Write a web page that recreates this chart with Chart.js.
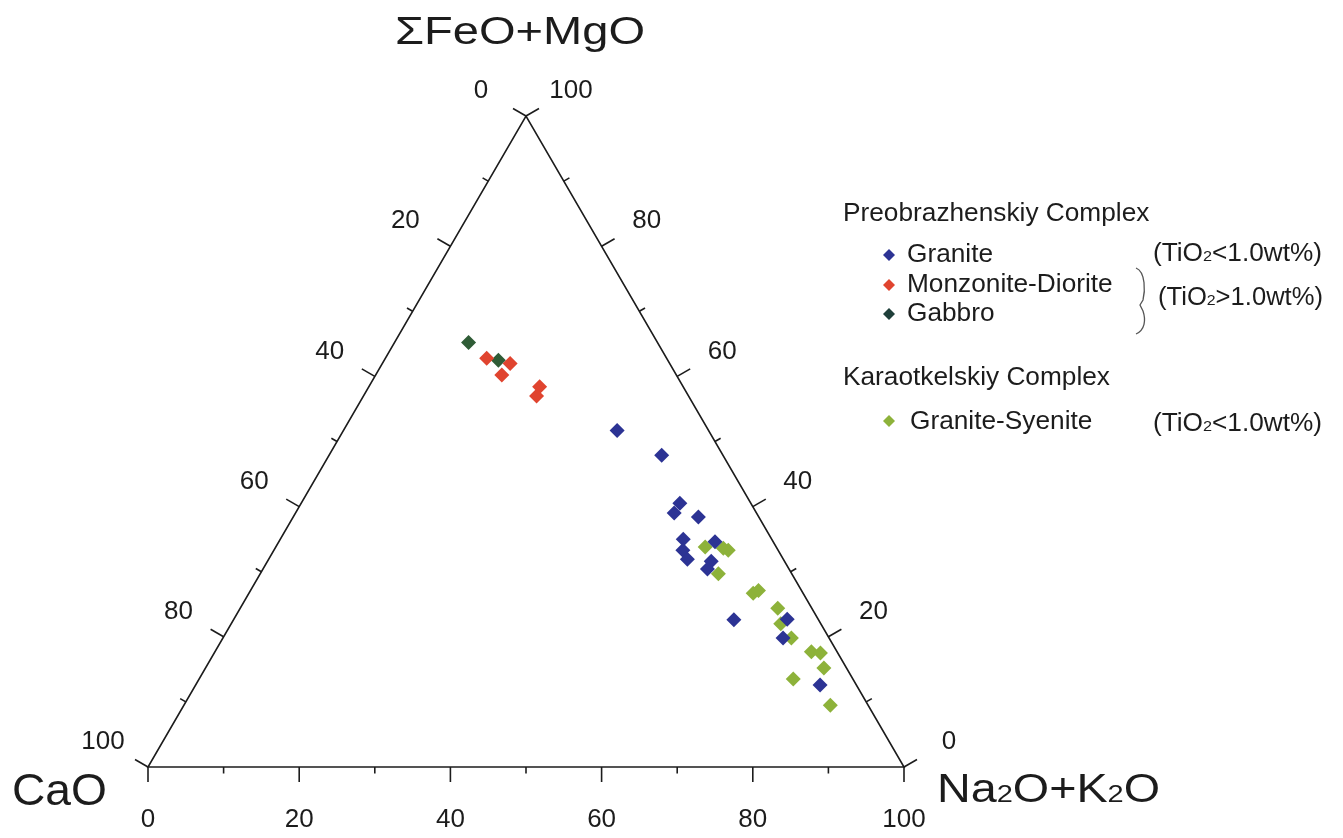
<!DOCTYPE html>
<html>
<head>
<meta charset="utf-8">
<script src="https://cdn.jsdelivr.net/npm/chart.js@4.4.0/dist/chart.umd.min.js"></script>
<style>
  html, body { margin: 0; padding: 0; background: #ffffff; }
  #container { display: block; }
</style>
</head>
<body>
<canvas id="container" width="1343" height="838"></canvas>
<script>
// ternary compositions, wt% : CaO / ΣFeO+MgO / Na2O+K2O
const graniteCaO = [12.1, 8.1, 9.4, 10.9, 8.0, 11.7, 12.6, 12.7, 7.7, 9.7, 10.8, 11.2, 4.1, 6.1, 4.8];
const graniteFeMg = [51.7, 47.9, 40.5, 39.0, 38.4, 35.0, 33.3, 31.9, 34.6, 31.6, 30.4, 22.6, 22.7, 19.8, 12.6];
const graniteAlk = [36.2, 44.0, 50.1, 50.1, 53.6, 53.3, 54.1, 55.4, 57.7, 58.7, 58.8, 66.2, 73.2, 74.1, 82.6];

const monzoCaO = [23.8, 21.1, 23.1, 19.0, 20.1];
const monzoFeMg = [62.8, 62.0, 60.2, 58.4, 57.0];
const monzoAlk = [13.4, 16.9, 16.7, 22.6, 22.9];

const gabbroCaO = [25.0, 22.4];
const gabbroFeMg = [65.2, 62.5];
const gabbroAlk = [9.8, 15.1];

const syeniteCaO = [9.4, 7.1, 6.6, 9.7, 6.6, 5.7, 4.5, 5.3, 5.0, 3.4, 2.3, 3.0, 7.9, 5.0];
const syeniteFeMg = [33.8, 33.6, 33.3, 29.7, 26.7, 27.1, 24.4, 22.0, 19.8, 17.7, 17.5, 15.2, 13.5, 9.5];
const syeniteAlk = [56.8, 59.3, 60.1, 60.6, 66.7, 67.2, 71.1, 72.7, 75.2, 78.9, 80.2, 81.8, 78.6, 85.5];

const axisTicks = [0, 10, 20, 30, 40, 50, 60, 70, 80, 90, 100];
const labelTicks = [0, 20, 40, 60, 80, 100];
const apexTitles = ['CaO', 'ΣFeO+MgO', 'Na_2O+K_2O'];
const seriesNames = ['Granite', 'Monzonite-Diorite', 'Gabbro', 'Granite-Syenite'];
const complexNames = ['Preobrazhenskiy Complex', 'Karaotkelskiy Complex'];
const tioNotes = ['(TiO_2<1.0wt%)', '(TiO_2>1.0wt%)', '(TiO_2<1.0wt%)'];

const FONT = '"Liberation Sans", Arial, Helvetica, sans-serif';
const INK = '#1c1c1c';
const seriesColors = ['#2c3394', '#e0442f', '#2f5c36', '#8db23a'];

// ternary -> plot coordinates (x across the base, y = height fraction)
function toXY(ca, fe, alk) {
    return ca.map((c, i) => {
        const s = c + fe[i] + alk[i];
        return { x: (alk[i] + fe[i] / 2) / s * 100, y: fe[i] / s * 100 };
    });
}

// text with "_2" style subscripts, optionally stretched to a width
function drawRich(ctx, text, x, y, size, opts = {}) {
    const segs = text.split(/(_\d)/).filter(Boolean).map(s =>
        s[0] === '_' ? { t: s.slice(1), sub: true } : { t: s, sub: false });
    let w = 0;
    segs.forEach(s => {
        ctx.font = `${s.sub ? size * 0.62 : size}px ${FONT}`;
        s.w = ctx.measureText(s.t).width;
        w += s.w;
    });
    const k = opts.width ? opts.width / w : (opts.scale || 1);
    let sx = x;
    if (opts.align === 'center') sx = x - w * k / 2;
    ctx.save();
    ctx.translate(sx, y);
    ctx.scale(k, 1);
    ctx.fillStyle = opts.color || INK;
    ctx.textAlign = 'left';
    ctx.textBaseline = opts.baseline || 'alphabetic';
    let cx = 0;
    segs.forEach(s => {
        ctx.font = `${s.sub ? size * 0.62 : size}px ${FONT}`;
        ctx.fillText(s.t, cx, 0);
        cx += s.w;
    });
    ctx.restore();
}

function diamond(ctx, x, y, r, color) {
    ctx.beginPath();
    ctx.moveTo(x, y - r);
    ctx.lineTo(x + r, y);
    ctx.lineTo(x, y + r);
    ctx.lineTo(x - r, y);
    ctx.closePath();
    ctx.fillStyle = color;
    ctx.fill();
}

const ternaryFrame = {
    id: 'ternaryFrame',
    beforeDatasetsDraw(chart) {
        const ctx = chart.ctx;
        const xs = chart.scales.x, ys = chart.scales.y;
        const P = (fe, alk) => ({ x: xs.getPixelForValue(alk + fe / 2), y: ys.getPixelForValue(fe) });
        const c30 = Math.cos(Math.PI / 6), s30 = 0.5;

        ctx.save();
        ctx.strokeStyle = INK;
        ctx.lineWidth = 1.6;
        const bl = P(0, 0), br = P(0, 100), top = P(100, 0);
        ctx.beginPath();
        ctx.moveTo(bl.x, bl.y);
        ctx.lineTo(br.x, br.y);
        ctx.lineTo(top.x, top.y);
        ctx.closePath();
        ctx.stroke();

        const axes = [
            // bottom: Na2O+K2O, left -> right
            { at: v => P(0, v), dir: [0, 1] },
            // left: CaO, top -> bottom-left
            { at: v => P(100 - v, 0), dir: [-c30, -s30] },
            // right: FeO+MgO, bottom-right -> top
            { at: v => P(v, 100 - v), dir: [c30, -s30] }
        ];
        axes.forEach(ax => {
            axisTicks.forEach(v => {
                const p = ax.at(v);
                const major = labelTicks.includes(v);
                const len = major ? 15 : 6.5;
                ctx.beginPath();
                ctx.moveTo(p.x, p.y);
                ctx.lineTo(p.x + ax.dir[0] * len, p.y + ax.dir[1] * len);
                ctx.stroke();
                if (major) {
                    drawRich(ctx, String(v), p.x + ax.dir[0] * 52, p.y + ax.dir[1] * 52 + 1, 26,
                        { align: 'center', baseline: 'middle' });
                }
            });
        });
        ctx.restore();
    },
    afterDatasetsDraw(chart) {
        const ctx = chart.ctx;
        const xs = chart.scales.x, ys = chart.scales.y;
        const bl = { x: xs.getPixelForValue(0), y: ys.getPixelForValue(0) };
        const br = { x: xs.getPixelForValue(100), y: ys.getPixelForValue(0) };
        const top = { x: xs.getPixelForValue(50), y: ys.getPixelForValue(100) };

        // apex titles
        drawRich(ctx, apexTitles[0], bl.x - 136, bl.y + 38, 44, { width: 95 });
        drawRich(ctx, apexTitles[1], top.x - 131, top.y - 72, 38, { width: 250 });
        drawRich(ctx, apexTitles[2], br.x + 33, br.y + 35, 40, { width: 223 });

        // legend
        const lx = 843, st = 1.05;
        drawRich(ctx, complexNames[0], lx, 221, 25, { scale: st });
        const rows = [262, 292, 321];
        [0, 1, 2].forEach((d, i) => {
            diamond(ctx, lx + 46, rows[i] - 7, 6, d === 2 ? '#1f3f3a' : seriesColors[d]);
            drawRich(ctx, seriesNames[d], lx + 64, rows[i], 25, { scale: st });
        });
        drawRich(ctx, tioNotes[0], 1153, 261, 25, { width: 169 });
        drawRich(ctx, tioNotes[1], 1158, 305, 25, { width: 165 });

        // brace joining Monzonite-Diorite and Gabbro
        ctx.save();
        ctx.strokeStyle = '#555555';
        ctx.lineWidth = 1.3;
        ctx.beginPath();
        ctx.moveTo(1136, 268);
        ctx.bezierCurveTo(1146, 272, 1145, 292, 1143, 300);
        ctx.lineTo(1140, 305);
        ctx.lineTo(1143, 311);
        ctx.bezierCurveTo(1146, 320, 1145, 330, 1136, 334);
        ctx.stroke();
        ctx.restore();

        drawRich(ctx, complexNames[1], lx, 385, 25, { scale: st });
        diamond(ctx, lx + 46, 421, 6, seriesColors[3]);
        drawRich(ctx, seriesNames[3], lx + 67, 429, 25, { scale: st });
        drawRich(ctx, tioNotes[2], 1153, 431, 25, { width: 169 });
    }
};

const mk = (i, data) => ({
    label: seriesNames[i],
    data: data,
    pointStyle: 'rectRot',
    pointRadius: 7.5,
    pointHoverRadius: 7.5,
    backgroundColor: seriesColors[i],
    borderColor: seriesColors[i],
    borderWidth: 0
});

new Chart(document.querySelector('#container'), {
    type: 'scatter',
    data: {
        datasets: [
            mk(0, toXY(graniteCaO, graniteFeMg, graniteAlk)),
            mk(3, toXY(syeniteCaO, syeniteFeMg, syeniteAlk)),
            mk(1, toXY(monzoCaO, monzoFeMg, monzoAlk)),
            mk(2, toXY(gabbroCaO, gabbroFeMg, gabbroAlk))
        ]
    },
    options: {
        responsive: false,
        devicePixelRatio: 1,
        animation: false,
        events: [],
        layout: { padding: { left: 148, right: 439, top: 116, bottom: 71 } },
        scales: {
            x: { type: 'linear', min: 0, max: 100, display: false },
            y: { type: 'linear', min: 0, max: 100, display: false }
        },
        plugins: {
            legend: { display: false },
            tooltip: { enabled: false }
        }
    },
    plugins: [ternaryFrame]
});
</script>
</body>
</html>
